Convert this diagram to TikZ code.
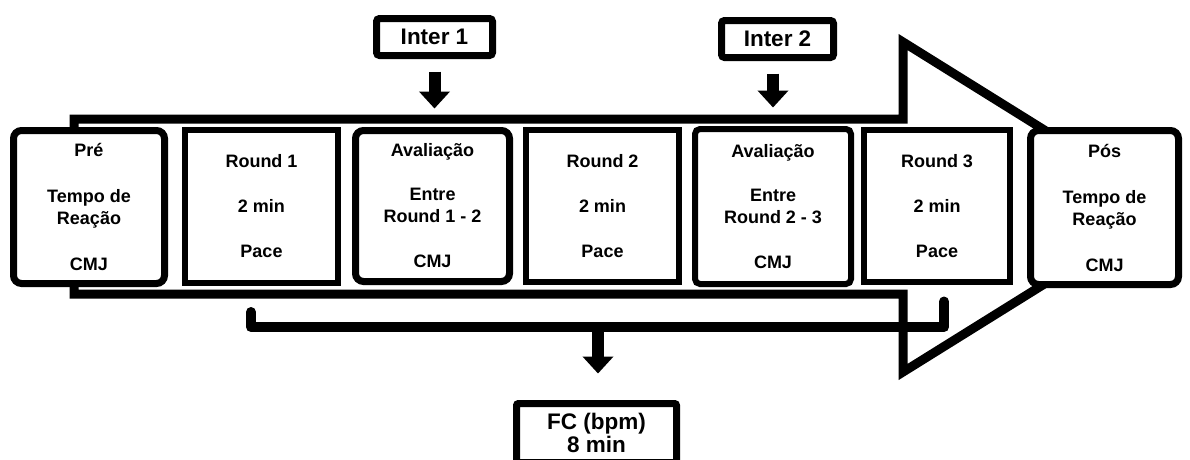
\documentclass[tikz,border=0pt]{standalone}
\usepackage{fontspec}
\setmainfont{Liberation Sans}
\usetikzlibrary{arrows.meta}
\begin{document}
\begin{tikzpicture}[x=1pt,y=-1pt,
  box/.style={draw, line width=6pt, fill=white, align=center, inner sep=0pt,
    font=\bfseries\fontsize{18}{22}\selectfont},
  rbox/.style={box, rounded corners=8pt, line width=7pt},
  lbl/.style={draw, line width=7pt, fill=white, rounded corners=3pt, inner sep=0pt,
    align=center, font=\bfseries\fontsize{22.5}{23}\selectfont},
  blockarrow/.style={line width=12pt, -{Triangle[width=30pt,length=17pt]}},
  outline/.style={line width=9pt, line join=miter},
  bracket/.style={line width=10pt, line cap=round, line join=round}]
\useasboundingbox (0,0) rectangle (1190,459);
\clip (0,0) rectangle (1190,459);
\fill[white] (0,0) rectangle (1190,459);

% big outline arrow
\draw[outline] (74,119) -- (903,119) -- (903,42) -- (1168,207) -- (903,372)
  -- (903,294) -- (74,294) -- cycle;

% boxes
\node[rbox, minimum width=151pt, minimum height=153pt] (pre) at (89,207)
  {Pré\\[24pt]Tempo de\\Reação\\[24pt]CMJ};
\node[box, minimum width=153pt, minimum height=153pt] (r1) at (261.5,206.5)
  {Round 1\\[23pt]2 min\\[23pt]Pace};
\node[rbox, minimum width=154pt, minimum height=151pt] (aval1) at (432.5,206)
  {Avaliação\\[22pt]Entre\\Round 1 - 2\\[23pt]CMJ};
\node[box, minimum width=153pt, minimum height=152pt] (r2) at (602.5,206)
  {Round 2\\[23pt]2 min\\[23pt]Pace};
\node[rbox, rounded corners=5pt, line width=6pt, minimum width=156pt, minimum height=155pt] (aval2) at (773,206.5)
  {Avaliação\\[22pt]Entre\\Round 2 - 3\\[23pt]CMJ};
\node[box, minimum width=146pt, minimum height=152pt] (r3) at (937,206)
  {Round 3\\[23pt]2 min\\[23pt]Pace};
\node[rbox, minimum width=148pt, minimum height=154pt] (pos) at (1104.5,207.5)
  {Pós\\[24pt]Tempo de\\Reação\\[24pt]CMJ};

% interval labels
\node[lbl, minimum width=116pt, minimum height=37pt] (inter1) at (434.5,37) {Inter 1};
\node[lbl, minimum width=112pt, minimum height=37pt] (inter2) at (777.5,39) {Inter 2};

\draw[blockarrow, shorten <=12.5pt, shorten >=18.5pt]
  (inter1.south) -- (inter1.south |- aval1.north);
\draw[blockarrow, shorten <=12.5pt, shorten >=18.5pt]
  (aval2.north |- inter2.south) -- (aval2.north);

% heart-rate bracket
\coordinate (bl) at (251,312);
\coordinate (blc) at (251,327);
\coordinate (brc) at (944,327);
\coordinate (br) at (944,301.5);
\coordinate (bm) at (598,327);
\draw[bracket] (bl) -- (blc) -- (brc) -- (br);

\node[lbl, rounded corners=2pt, minimum width=160pt, minimum height=59pt] (fc) at (596.5,433)
  {FC (bpm)\\8 min};
\draw[blockarrow, shorten >=26.5pt] (bm) -- (bm |- fc.north);
\end{tikzpicture}
\end{document}
